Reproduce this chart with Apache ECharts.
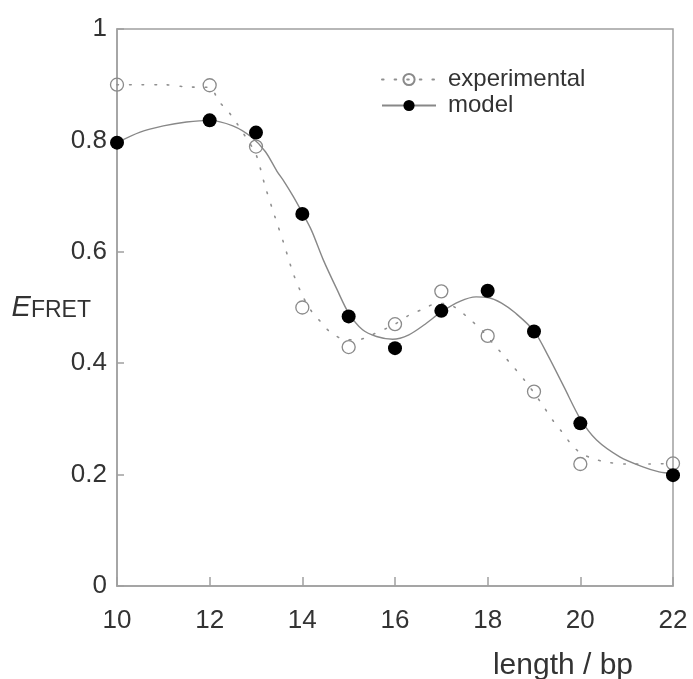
<!DOCTYPE html>
<html>
<head>
<meta charset="utf-8">
<script src="https://cdn.jsdelivr.net/npm/echarts@6/dist/echarts.min.js"></script>
<style>html,body{margin:0;padding:0;background:#fff}#c{width:693px;height:679px}</style>
</head>
<body>
<div id="c"></div>
<script>
// measured points
var lengthsBp = [10, 12, 13, 14, 15, 16, 17, 18, 19, 20, 22];
var experimental = [0.900, 0.899, 0.789, 0.500, 0.429, 0.470, 0.529, 0.449, 0.349, 0.219, 0.220];
var model = [0.796, 0.836, 0.814, 0.668, 0.484, 0.427, 0.494, 0.530, 0.457, 0.292, 0.199];

// fitted curves
var expCurveX = [10, 10.5, 11, 11.5, 12, 12.2, 12.4, 12.6, 12.8, 13.0, 13.2, 13.4, 13.6, 13.8, 14.0, 14.2, 14.4, 14.6, 14.9, 15.2, 15.5, 15.8, 16.0, 16.3, 16.6, 16.9, 17.1, 17.3, 17.6, 17.9, 18.1, 18.3, 18.55, 18.8, 19.0, 19.2, 19.4, 19.6, 19.8, 20.0, 20.3, 20.6, 21.0, 21.5, 22.0];
var expCurveY = [0.900, 0.900, 0.900, 0.896, 0.895, 0.870, 0.852, 0.829, 0.803, 0.775, 0.717, 0.665, 0.615, 0.562, 0.522, 0.493, 0.474, 0.456, 0.443, 0.442, 0.451, 0.462, 0.470, 0.486, 0.497, 0.507, 0.507, 0.500, 0.480, 0.457, 0.437, 0.418, 0.394, 0.369, 0.347, 0.323, 0.298, 0.277, 0.255, 0.239, 0.228, 0.222, 0.219, 0.219, 0.220];
var modelCurveX = [10, 10.5, 11, 11.5, 12, 12.5, 12.9, 13.2, 13.45, 13.6, 13.8, 14.0, 14.2, 14.45, 14.75, 15.0, 15.3, 15.6, 15.95, 16.3, 16.65, 17.0, 17.4, 17.75, 18.0, 18.3, 18.6, 19.0, 19.3, 19.65, 20.0, 20.35, 20.85, 21.35, 21.7, 22.0];
var modelCurveY = [0.796, 0.815, 0.826, 0.833, 0.836, 0.826, 0.806, 0.780, 0.745, 0.727, 0.700, 0.670, 0.638, 0.586, 0.532, 0.490, 0.460, 0.448, 0.443, 0.451, 0.470, 0.492, 0.511, 0.519, 0.518, 0.508, 0.490, 0.458, 0.414, 0.357, 0.300, 0.262, 0.232, 0.214, 0.205, 0.202];

var xTicks = [10, 12, 14, 16, 18, 20, 22];
var yTicks = [0, 0.2, 0.4, 0.6, 0.8, 1];

function zip(a, b) { return a.map(function (v, i) { return [v, b[i]]; }); }

var FONT = 'Liberation Sans';
var chart = echarts.init(document.getElementById('c'), null, {renderer: 'canvas'});
chart.setOption({
  backgroundColor: '#fff',
  animation: false,
  grid: {left: 117, right: 20, top: 29, bottom: 93, show: true, borderColor: '#a0a0a0', borderWidth: 1.5,
         containLabel: false, outerBoundsMode: 'none'},
  legend: {
    orient: 'vertical', left: 376, top: 62, itemWidth: 54, itemHeight: 14, itemGap: 1,
    selectedMode: false,
    textStyle: {fontFamily: FONT, fontSize: 24, color: '#333', padding: [0, 0, 0, 7], lineHeight: 25},
    data: ['experimental', 'model']
  },
  xAxis: {
    type: 'value', min: xTicks[0], max: xTicks[xTicks.length - 1], interval: 2,
    axisLine: {lineStyle: {color: '#a0a0a0', width: 1.5}},
    axisTick: {inside: true, length: 9, lineStyle: {color: '#a0a0a0', width: 1.5}},
    axisLabel: {fontFamily: FONT, fontSize: 26, color: '#333', margin: 22},
    splitLine: {show: false},
    name: 'length / bp', nameLocation: 'middle', nameGap: 65, nameMoveOverlap: false,
    nameTextStyle: {fontFamily: FONT, fontSize: 30, color: '#333', padding: [0, 0, 0, 336]}
  },
  yAxis: {
    type: 'value', min: yTicks[0], max: yTicks[yTicks.length - 1], interval: 0.2,
    axisLine: {show: true, lineStyle: {color: '#a0a0a0', width: 1.5}},
    axisTick: {show: true, inside: true, length: 7, lineStyle: {color: '#a0a0a0', width: 1.5}},
    axisLabel: {fontFamily: FONT, fontSize: 26, color: '#333', margin: 10},
    splitLine: {show: false},
    name: '{e|E}{s|FRET}', nameLocation: 'middle', nameRotate: 0, nameGap: 26, nameMoveOverlap: false,
    nameTextStyle: {
      rich: {
        e: {fontFamily: FONT, fontSize: 29, fontStyle: 'italic', color: '#333', verticalAlign: 'bottom'},
        s: {fontFamily: FONT, fontSize: 23, color: '#333', padding: [7, 0, 0, 0], verticalAlign: 'bottom'}
      }
    }
  },
  series: [
    {
      name: 'experimental', type: 'line', data: zip(expCurveX, expCurveY), smooth: 0.3,
      showSymbol: false, symbol: 'circle', symbolSize: 13,
      itemStyle: {color: 'rgba(0,0,0,0)', borderColor: '#8a8a8a', borderWidth: 1.3},
      lineStyle: {color: '#909090', width: 1.6, type: [1.6, 11], cap: 'round'},
      z: 2, silent: true
    },
    {
      name: 'model', type: 'line', data: zip(modelCurveX, modelCurveY), smooth: 0.3,
      showSymbol: false, symbol: 'circle', symbolSize: 13,
      itemStyle: {color: '#000', borderColor: '#000', borderWidth: 0, opacity: 1},
      lineStyle: {color: '#888', width: 1.4},
      z: 2, silent: true
    },
    {
      name: 'experimental', type: 'scatter', data: zip(lengthsBp, experimental),
      symbol: 'circle', symbolSize: 13,
      itemStyle: {color: 'rgba(0,0,0,0)', borderColor: '#8a8a8a', borderWidth: 1.3, opacity: 1},
      z: 3, silent: true
    },
    {
      name: 'model', type: 'scatter', data: zip(lengthsBp, model),
      symbol: 'circle', symbolSize: 14,
      itemStyle: {color: '#000', opacity: 1},
      z: 4, silent: true
    }
  ]
});
</script>
</body>
</html>
